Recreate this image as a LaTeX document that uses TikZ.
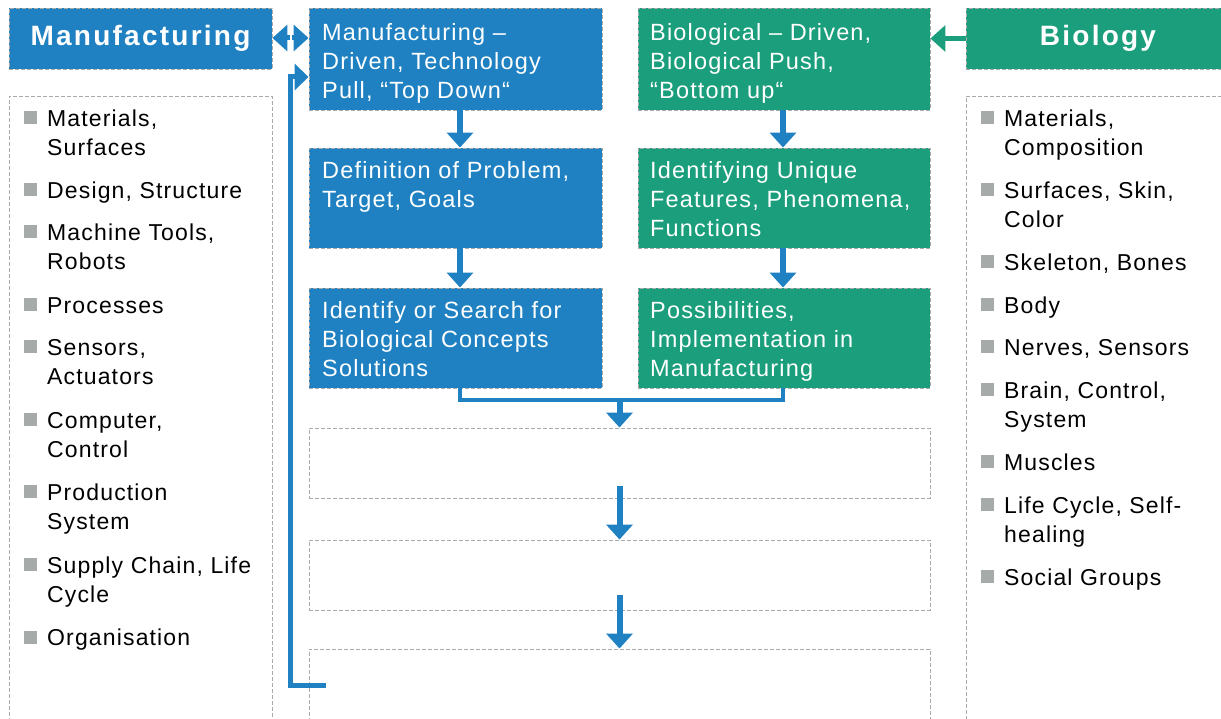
\documentclass[tikz,border=0pt]{standalone}
\usepackage{fontspec}
\setmainfont{Liberation Sans}[LetterSpace=8]
\newfontfamily\txtfont{Liberation Sans}[LetterSpace=5]
\usetikzlibrary{arrows.meta,calc}
\definecolor{mblue}{HTML}{1F81C2}
\definecolor{mgreen}{HTML}{1A9E7C}
\definecolor{bgray}{HTML}{A6AAA9}
\definecolor{dgray}{HTML}{AAAAAA}
\newcommand\bitem[4]{%
  \node[bul] (#1b) at (#2-17,718-#3) {};
  \node[itemtext] (#1) at (#2,718-#3+12.4) {\strut #4};}
\begin{document}
\begin{tikzpicture}[x=1pt,y=1pt,
  dbox/.style={draw=dgray,dashed,dash pattern=on 4pt off 2pt,line width=0.9pt,inner sep=0pt},
  bluebox/.style={dbox,fill=mblue},
  greenbox/.style={dbox,fill=mgreen},
  head/.style={text=white,font=\fontsize{28}{32}\selectfont\bfseries},
  btext/.style={anchor=north west,inner sep=0pt,align=left,text=white,font=\txtfont\fontsize{23.5}{29}\selectfont},
  itemtext/.style={anchor=north west,inner sep=0pt,align=left,text=black,font=\txtfont\fontsize{23}{29.5}\selectfont},
  bul/.style={fill=bgray,minimum size=13pt,inner sep=0pt},
  arr/.style={draw=mblue,line width=6pt,-{Triangle[width=26pt,length=15pt]}},
  link/.style={draw=mblue,line width=4.5pt}
]
\useasboundingbox (0,0) rectangle (1221,718);
\clip (0,0) rectangle (1221,718);
% headers
\node[bluebox,head,minimum width=263pt,minimum height=61pt] (MH) at (140.5,679.5) {Manufacturing};
\node[greenbox,head,minimum width=264pt,minimum height=61pt] (BH) at (1098,679.5) {Biology};
% list boxes
\node[dbox,minimum width=263pt,minimum height=634pt] (LL) at (140.5,305) {};
\node[dbox,minimum width=264pt,minimum height=634pt] (RL) at (1098,305) {};
% flow boxes
\node[bluebox,minimum width=293pt,minimum height=102pt] (B1) at (455.5,659) {};
\node[bluebox,minimum width=293pt,minimum height=100pt] (B2) at (455.5,520) {};
\node[bluebox,minimum width=293pt,minimum height=100pt] (B3) at (455.5,380) {};
\node[greenbox,minimum width=292pt,minimum height=102pt] (G1) at (784,659) {};
\node[greenbox,minimum width=292pt,minimum height=100pt] (G2) at (784,520) {};
\node[greenbox,minimum width=292pt,minimum height=100pt] (G3) at (784,380) {};
\node[dbox,minimum width=621pt,minimum height=70pt] (D1) at (619.5,255) {};
\node[dbox,minimum width=621pt,minimum height=70pt] (D2) at (619.5,143) {};
\node[dbox,minimum width=621pt,minimum height=81pt] (D3) at (619.5,28.5) {};
% box texts
\node[btext] (B1t) at (322,718-32+11.9) {\strut Manufacturing –\\Driven, Technology\\Pull, “Top Down“};
\node[btext] (B2t) at (322,718-170+11.9) {\strut Definition of Problem,\\Target, Goals};
\node[btext] (B3t) at (322,718-310+11.9) {\strut Identify or Search for\\Biological Concepts\\Solutions};
\node[btext] (G1t) at (650,718-32+11.9) {\strut Biological – Driven,\\Biological Push,\\“Bottom up“};
\node[btext] (G2t) at (650,718-170+11.9) {\strut Identifying Unique\\Features, Phenomena,\\Functions};
\node[btext] (G3t) at (650,718-310+11.9) {\strut Possibilities,\\Implementation in\\Manufacturing};
% connectors
\draw[arr] ([xshift=4.5pt]B1.south) -- ([xshift=4.5pt]B2.north);
\draw[arr] ([xshift=4.5pt]B2.south) -- ([xshift=4.5pt]B3.north);
\draw[arr] ([xshift=-1pt]G1.south) -- ([xshift=-1pt]G2.north);
\draw[arr] ([xshift=-1pt]G2.south) -- ([xshift=-1pt]G3.north);
\coordinate (mj) at (619.5,318);
\draw[link,line join=miter] ([xshift=4.5pt]B3.south) |- (mj) -| ([xshift=-1pt]G3.south);
\draw[arr] (mj) -- (D1.north);
\coordinate (d1s) at (619.5,232);
\coordinate (d2s) at (619.5,123);
\draw[arr] (d1s) -- (D2.north);
\draw[arr] (d2s) -- (D3.north);
% feedback loop
\coordinate (fb) at (326,33);
\coordinate (fbt) at (309,641);
\draw[draw=mblue,line width=5pt,line join=miter,-{Triangle[width=26pt,length=14pt]}] (fb) -- (290,33) |- (B1.west |- fbt);
% double arrow
\coordinate (dm) at (290.5,680);
\draw[arr,line width=5pt] ([xshift=-1pt]dm) -- (MH.east |- dm);
\draw[arr,line width=5pt] ([xshift=1pt]dm) -- (B1.west |- dm);
% biology arrow
\draw[draw=mgreen,line width=5pt,-{Triangle[width=26pt,length=15pt]}] (BH.west) -- (BH.west -| G1.east);
% left list
\bitem{l1}{47}{118}{Materials,\\Surfaces}
\bitem{l2}{47}{190}{Design, Structure}
\bitem{l3}{47}{232}{Machine Tools,\\Robots}
\bitem{l4}{47}{305}{Processes}
\bitem{l5}{47}{347}{Sensors,\\Actuators}
\bitem{l6}{47}{420}{Computer,\\Control}
\bitem{l7}{47}{492}{Production\\System}
\bitem{l8}{47}{565}{Supply Chain, Life\\Cycle}
\bitem{l9}{47}{637}{Organisation}
% right list
\bitem{r1}{1004}{118}{Materials,\\Composition}
\bitem{r2}{1004}{190}{Surfaces, Skin,\\Color}
\bitem{r3}{1004}{262}{Skeleton, Bones}
\bitem{r4}{1004}{305}{Body}
\bitem{r5}{1004}{347}{Nerves, Sensors}
\bitem{r6}{1004}{390}{Brain, Control,\\System}
\bitem{r7}{1004}{462}{Muscles}
\bitem{r8}{1004}{505}{Life Cycle, Self-\\healing}
\bitem{r9}{1004}{577}{Social Groups}
\end{tikzpicture}
\end{document}
